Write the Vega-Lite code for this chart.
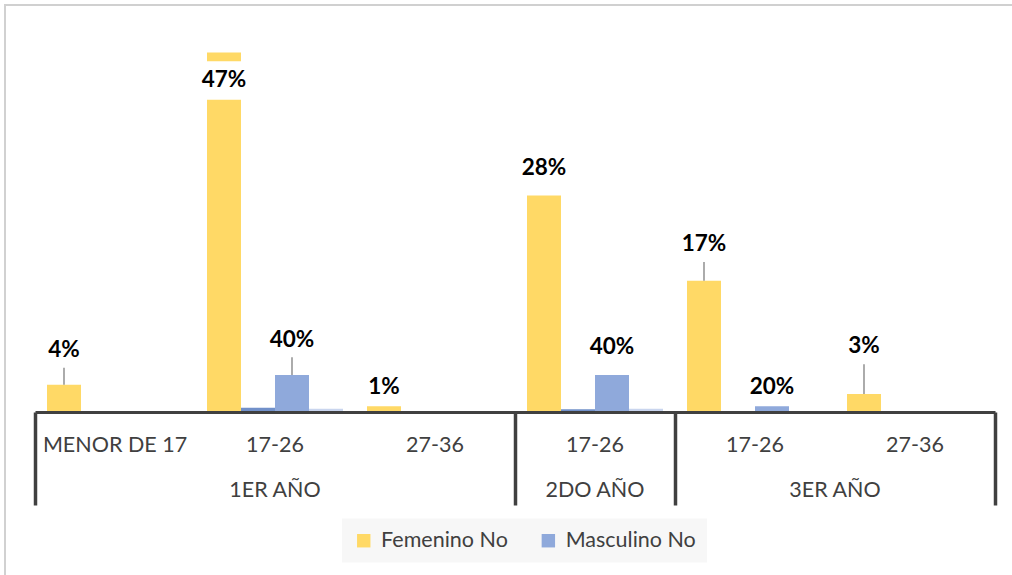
{
  "$schema": "https://vega.github.io/schema/vega-lite/v6.json",
  "autosize": {"type": "none"},
  "width": 960,
  "height": 473,
  "padding": {"left": 35, "top": 33.6, "right": 17, "bottom": 68.4},
  "background": "white",
  "config": {"view": {"stroke": null}, "font": "Lato"},
  "data": {
    "values": [
      {"group": "1ER AÑO", "key": "1ER AÑO|MENOR DE 17", "idx": 0, "series": "Femenino No", "value": 3.6, "label": "4%", "label_y": 8.32, "leader_top": 5.85},
      {"group": "1ER AÑO", "key": "1ER AÑO|MENOR DE 17", "idx": 0, "series": "Femenino Sí", "value": 0},
      {"group": "1ER AÑO", "key": "1ER AÑO|MENOR DE 17", "idx": 0, "series": "Masculino No", "value": 0},
      {"group": "1ER AÑO", "key": "1ER AÑO|MENOR DE 17", "idx": 0, "series": "Masculino Sí", "value": 0},
      {"group": "1ER AÑO", "key": "1ER AÑO|17-26", "idx": 1, "series": "Femenino No", "value": 47.5, "label": "47%", "label_y": 43.94},
      {"group": "1ER AÑO", "key": "1ER AÑO|17-26", "idx": 1, "series": "Femenino Sí", "value": 0.57},
      {"group": "1ER AÑO", "key": "1ER AÑO|17-26", "idx": 1, "series": "Masculino No", "value": 4.9, "label": "40%", "label_y": 9.67, "leader_top": 7.23},
      {"group": "1ER AÑO", "key": "1ER AÑO|17-26", "idx": 1, "series": "Masculino Sí", "value": 0.44},
      {"group": "1ER AÑO", "key": "1ER AÑO|27-36", "idx": 2, "series": "Femenino No", "value": 0.89, "label": "1%", "label_y": 3.44},
      {"group": "1ER AÑO", "key": "1ER AÑO|27-36", "idx": 2, "series": "Femenino Sí", "value": 0},
      {"group": "1ER AÑO", "key": "1ER AÑO|27-36", "idx": 2, "series": "Masculino No", "value": 0},
      {"group": "1ER AÑO", "key": "1ER AÑO|27-36", "idx": 2, "series": "Masculino Sí", "value": 0},
      {"group": "2DO AÑO", "key": "2DO AÑO|17-26", "idx": 3, "series": "Femenino No", "value": 28.6, "label": "28%", "label_y": 32.41},
      {"group": "2DO AÑO", "key": "2DO AÑO|17-26", "idx": 3, "series": "Femenino Sí", "value": 0.36},
      {"group": "2DO AÑO", "key": "2DO AÑO|17-26", "idx": 3, "series": "Masculino No", "value": 4.9, "label": "40%", "label_y": 8.75},
      {"group": "2DO AÑO", "key": "2DO AÑO|17-26", "idx": 3, "series": "Masculino Sí", "value": 0.44},
      {"group": "3ER AÑO", "key": "3ER AÑO|17-26", "idx": 4, "series": "Femenino No", "value": 17.35, "label": "17%", "label_y": 22.29, "leader_top": 19.82},
      {"group": "3ER AÑO", "key": "3ER AÑO|17-26", "idx": 4, "series": "Femenino Sí", "value": 0},
      {"group": "3ER AÑO", "key": "3ER AÑO|17-26", "idx": 4, "series": "Masculino No", "value": 0.96, "label": "20%", "label_y": 3.44},
      {"group": "3ER AÑO", "key": "3ER AÑO|17-26", "idx": 4, "series": "Masculino Sí", "value": 0},
      {"group": "3ER AÑO", "key": "3ER AÑO|27-36", "idx": 5, "series": "Femenino No", "value": 2.38, "label": "3%", "label_y": 8.89, "leader_top": 6.3},
      {"group": "3ER AÑO", "key": "3ER AÑO|27-36", "idx": 5, "series": "Femenino Sí", "value": 0},
      {"group": "3ER AÑO", "key": "3ER AÑO|27-36", "idx": 5, "series": "Masculino No", "value": 0},
      {"group": "3ER AÑO", "key": "3ER AÑO|27-36", "idx": 5, "series": "Masculino Sí", "value": 0}
    ]
  },
  "layer": [
    {
      "encoding": {
        "x": {
          "field": "key",
          "type": "nominal",
          "sort": ["1ER AÑO|MENOR DE 17", "1ER AÑO|17-26", "1ER AÑO|27-36", "2DO AÑO|17-26", "3ER AÑO|17-26", "3ER AÑO|27-36"],
          "scale": {"paddingInner": 0, "paddingOuter": 0},
          "axis": {
            "orient": "bottom",
            "offset": -94.6,
            "title": null,
            "ticks": false,
            "domain": true,
            "domainColor": "#404040",
            "domainWidth": 3,
            "labelExpr": "split(datum.value, '|')[1]",
            "labelFont": "Lato",
            "labelFontSize": 21.5,
            "labelColor": "#404040",
            "labelPadding": 39,
            "labelBaseline": "alphabetic",
            "labelAngle": 0,
            "labelOverlap": false,
            "zindex": 1
          }
        },
        "xOffset": {
          "field": "series",
          "type": "nominal",
          "sort": ["Femenino No", "Femenino Sí", "Masculino No", "Masculino Sí"],
          "scale": {"paddingInner": 0, "paddingOuter": 0.353}
        }
      },
      "layer": [
        {
          "mark": {"type": "bar"},
          "encoding": {
            "y": {
              "field": "value",
              "type": "quantitative",
              "scale": {"domain": [-12.5, 50], "nice": false, "zero": false},
              "axis": {
                "values": [0, 6.25, 12.5, 18.75, 25, 31.25, 37.5, 43.75, 50],
                "grid": true,
                "gridColor": {"condition": {"test": "datum.value >= 37", "value": "#dedede"}, "value": "#c9c9c9"},
                "gridWidth": 1.4,
                "labels": false,
                "ticks": false,
                "domain": false,
                "title": null,
                "zindex": 0
              }
            },
            "y2": {"datum": 0},
            "color": {
              "field": "series",
              "type": "nominal",
              "scale": {
                "domain": ["Femenino No", "Femenino Sí", "Masculino No", "Masculino Sí"],
                "range": ["#FFD966", "#7190C9", "#8FA9DB", "#C9D5EE"]
              },
              "legend": {
                "values": ["Femenino No", "Masculino No"],
                "orient": "none",
                "legendX": 307,
                "legendY": 485,
                "direction": "horizontal",
                "title": null,
                "symbolType": "square",
                "symbolSize": 180,
                "symbolStrokeWidth": 0,
                "labelFont": "Lato",
                "labelFontSize": 21.5,
                "labelColor": "#404040",
                "labelOffset": 6.6,
                "columnPadding": 29.6,
                "padding": 11,
                "fillColor": "#f7f7f7"
              }
            }
          }
        },
        {
          "transform": [{"filter": "isValid(datum.label)"}],
          "mark": {"type": "point", "shape": "M-1,-0.63H1V0.7H-1Z", "filled": true, "fill": "white", "size": 3364, "opacity": 1, "strokeWidth": 0},
          "encoding": {
            "y": {"field": "label_y", "type": "quantitative", "axis": null}
          }
        },
        {
          "transform": [{"filter": "isValid(datum.leader_top)"}],
          "mark": {"type": "rule", "color": "#7f7f7f", "strokeWidth": 1.3},
          "encoding": {
            "y": {"field": "value", "type": "quantitative", "axis": null},
            "y2": {"field": "leader_top"}
          }
        },
        {
          "transform": [{"filter": "isValid(datum.label)"}],
          "mark": {"type": "text", "font": "Lato", "fontWeight": "bold", "fontSize": 22.5, "color": "#000000", "baseline": "middle", "dy": 1},
          "encoding": {
            "y": {"field": "label_y", "type": "quantitative", "axis": null},
            "text": {"field": "label"}
          }
        }
      ]
    },
    {
      "layer": [
        {
          "mark": {"type": "text", "font": "Lato", "fontSize": 21.5, "color": "#404040", "baseline": "alphabetic"},
          "encoding": {
            "x": {
              "aggregate": "mean",
              "field": "idx",
              "type": "quantitative",
              "scale": {"domain": [-0.5, 5.5], "nice": false, "zero": false},
              "axis": {
                "orient": "bottom",
                "offset": -94.6,
                "values": [-0.5, 2.5, 3.5, 5.5],
                "labels": false,
                "domain": false,
                "grid": false,
                "ticks": true,
                "tickSize": 93,
                "tickWidth": 3.5,
                "tickColor": "#404040",
                "title": null,
                "zindex": 1
              }
            },
            "y": {"datum": -11.23},
            "text": {"field": "group"}
          }
        },
        {
          "mark": {"type": "rule", "color": "#d0d0d0", "strokeWidth": 1.5},
          "encoding": {
            "x": {"datum": -0.6875},
            "y": {"datum": -22},
            "y2": {"datum": 53.82}
          }
        },
        {
          "mark": {"type": "rule", "color": "#d0d0d0", "strokeWidth": 1.5},
          "encoding": {
            "x": {"datum": -0.6875},
            "x2": {"datum": 6.5},
            "y": {"datum": 53.82}
          }
        }
      ]
    }
  ],
  "resolve": {"scale": {"x": "independent"}, "axis": {"x": "independent"}}
}
